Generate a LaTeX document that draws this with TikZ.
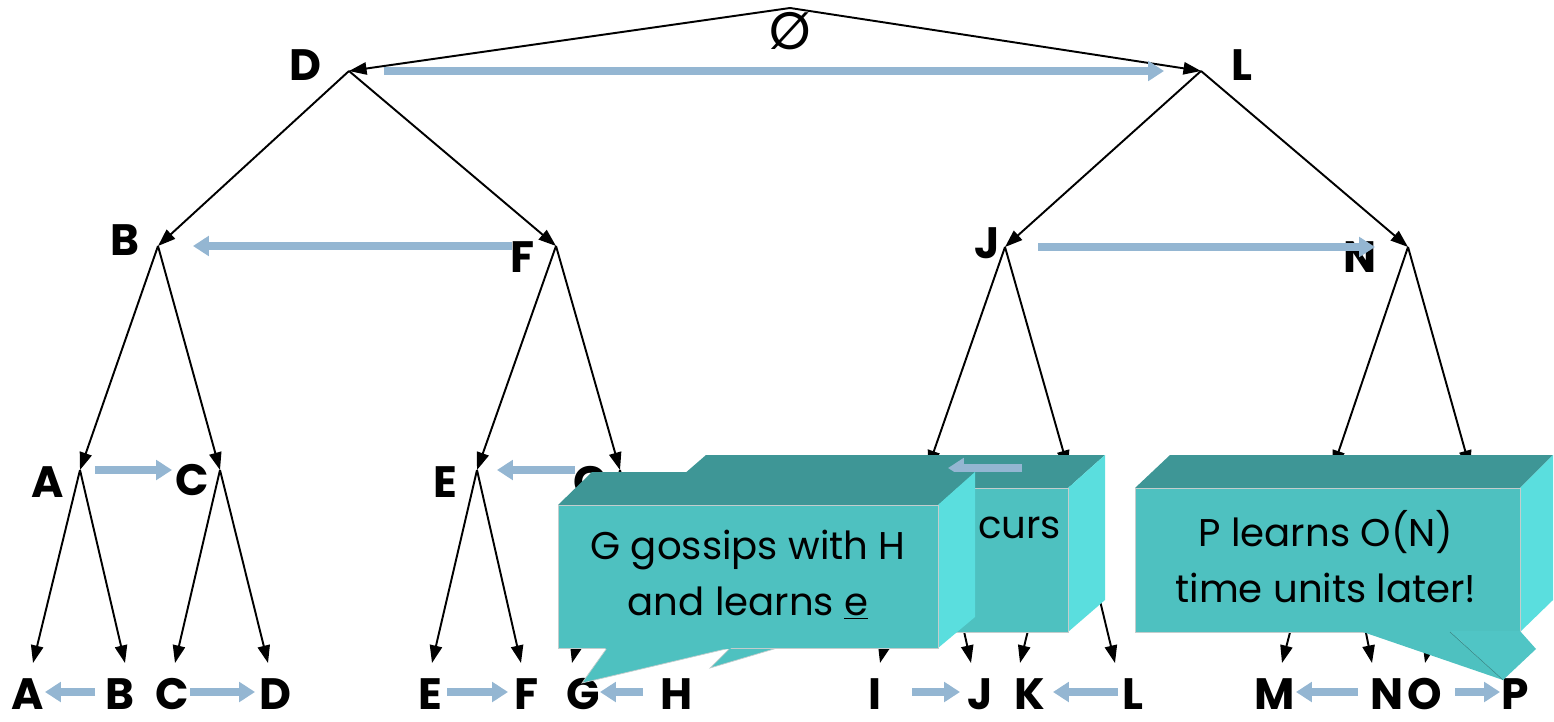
\documentclass[tikz,border=0pt]{standalone}
\usepackage{fontspec}
\setmainfont{Poppins}
\usetikzlibrary{arrows.meta}
\definecolor{gossipblue}{RGB}{148,182,210}
\definecolor{calloutfront}{RGB}{78,193,192}
\definecolor{callouttop}{RGB}{62,150,150}
\definecolor{calloutside}{RGB}{90,222,222}
\definecolor{calloutedge}{RGB}{195,205,205}
\tikzset{
  treeedge/.style={
    -{Triangle[length=10pt,width=7pt]}, line width=1.1pt, black
  },
  gossip/.style={
    -{Triangle[length=9pt,width=11pt]}, line width=4pt, color=gossipblue
  },
  peer/.style={
    font=\fontsize{25}{28}\selectfont\bfseries, inner sep=0pt
  },
  frontface/.style={fill=calloutfront, draw=calloutedge, line width=0.4pt},
  topface/.style={fill=callouttop},
  sideface/.style={fill=calloutside},
  callouttext/.style={
    font=\fontsize{22}{32}\selectfont, align=center, text=black
  }
}

\begin{document}
\begin{tikzpicture}[x=0.02cm, y=-0.02cm]
  \useasboundingbox (0,0) rectangle (1554,722);

  % ── Tree junctions ─────────────────────────────────────
  \coordinate (root) at (790,8);
  \coordinate (d) at (349,71);
  \coordinate (l) at (1201,71);
  \coordinate (b) at (158,246);
  \coordinate (f) at (556,246);
  \coordinate (j) at (1005,247);
  \coordinate (n) at (1408,247);
  \coordinate (a) at (80,470);
  \coordinate (c) at (220,470);
  \coordinate (e) at (477,470);
  \coordinate (g) at (620,470);
  \coordinate (i) at (928,468);
  \coordinate (k) at (1068,468);
  \coordinate (m) at (1333,468);
  \coordinate (o) at (1470,468);

  % ── Leaf tips ──────────────────────────────────────────
  \foreach \n/\x in {A/33, B/125, C/175, D/268, E/432, F/521, G/572, H/665,
                     I/880, J/971, K/1020, L/1115, M/1282, N/1372, O/1425, P/1520}{
    \coordinate (tip\n) at (\x,663);
  }

  % ── Labels ─────────────────────────────────────────────
  \node[font=\fontsize{30}{30}\selectfont, inner sep=0pt] (empty) at (790,31) {Ø};
  \node[peer] (lblD) at (305,65) {D};
  \node[peer] (lblL) at (1242,65) {L};
  \node[peer] (lblB) at (125,240) {B};
  \node[peer] (lblF) at (523,257) {F};
  \node[peer] (lblJ) at (987,243) {J};
  \node[peer] (lblN) at (1360,257) {N};
  \node[peer] (lblA) at (48,482) {A};
  \node[peer] (lblC) at (192,480) {C};
  \node[peer] (lblE) at (445,482) {E};
  \node[peer] (lblG) at (590,482) {G};

  \foreach \n/\x in {A/28, B/120, C/172, D/275, E/430, F/527, G/583, H/677,
                     I/875, J/980, K/1030, L/1133, M/1275, N/1387, O/1425, P/1515}{
    \node[peer] (leaf\n) at (\x,694) {\n};
  }

  % ── Arrows: tree ───────────────────────────────────────
  \foreach \p/\q in {root/d, root/l, d/b, d/f, l/j, l/n,
                     b/a, b/c, f/e, f/g, j/i, j/k, n/m, n/o,
                     a/tipA, a/tipB, c/tipC, c/tipD, e/tipE, e/tipF, g/tipG, g/tipH,
                     i/tipI, i/tipJ, k/tipK, k/tipL, m/tipM, m/tipN, o/tipO, o/tipP}{
    \draw[treeedge] (\p) -- (\q);
  }

  % ── Arrows: gossip between peers ───────────────────────
  \draw[gossip, shorten <=0.7cm, shorten >=0.74cm] (d) -- (l);
  \draw[gossip, shorten <=0.88cm, shorten >=0.7cm] (f) -- (b);
  \draw[gossip, shorten <=0.66cm, shorten >=0.66cm] (j) -- (n);
  \draw[gossip, shorten <=0.3cm, shorten >=0.96cm] (a) -- (c);
  \draw[gossip, shorten <=0.9cm, shorten >=0.4cm] (g) -- (e);

  \foreach \p/\q/\s/\t in {B/A/0.5/0.34, C/D/0.36/0.4, E/F/0.34/0.38, H/G/0.68/0.34,
                           I/J/0.74/0.4, L/K/0.3/0.46, N/M/0.58/0.42, O/P/0.6/0.3}{
    \draw[gossip, shorten <=\s cm, shorten >=\t cm]
      ([yshift=0.04cm]leaf\p.center) -- ([yshift=0.04cm]leaf\q.center);
  }

  % ── Callout: back ──────────────────────────────────────
  \fill[topface] (706,455) -- (1105,455) -- (1068,488) -- (668,488) -- cycle;
  \fill[sideface] (1068,488) -- (1105,455) -- (1105,600) -- (1068,632) -- cycle;
  \filldraw[frontface] (746,632) -- (710,668) -- (831,632) -- cycle;
  \filldraw[frontface] (668,488) rectangle (1068,632);
  \node[callouttext, anchor=west, inner sep=0pt] (occurs) at (978,528) {curs};

  \draw[gossip, shorten <=0.92cm, shorten >=0.4cm] (k) -- (i);

  % ── Callout: G gossips ─────────────────────────────────
  \fill[topface] (592,472) -- (975,472) -- (938,505) -- (558,505) -- cycle;
  \fill[sideface] (938,505) -- (975,472) -- (975,617) -- (938,648) -- cycle;
  \filldraw[frontface] (607,648) -- (582,683) -- (730,648) -- cycle;
  \filldraw[frontface] (558,505) rectangle (938,648);
  \fill[calloutfront] (600,640) -- (740,640) -- (730,649) -- (606,649) -- cycle;
  \node[callouttext] (gossipG) at (748,575)
    {G gossips with H\\and learns \underline{e}};

  % ── Callout: P learns ──────────────────────────────────
  \fill[topface] (1170,455) -- (1553,455) -- (1520,488) -- (1135,488) -- cycle;
  \fill[sideface] (1520,488) -- (1553,455) -- (1553,600) -- (1520,632) -- cycle;
  \filldraw[frontface] (1135,488) rectangle (1520,632);
  \fill[calloutfront!85!calloutside] (1450,631) -- (1520,631) -- (1536,649) -- (1503,680) -- cycle;
  \fill[calloutfront] (1360,631) -- (1503,680) -- (1450,631) -- cycle;
  \draw[calloutfront!70!black, line width=0.3pt] (1450,632) -- (1503,680);
  \node[callouttext] (learnsP) at (1326,557)
    {P learns O(N)\\time units later!};

\end{tikzpicture}
\end{document}
